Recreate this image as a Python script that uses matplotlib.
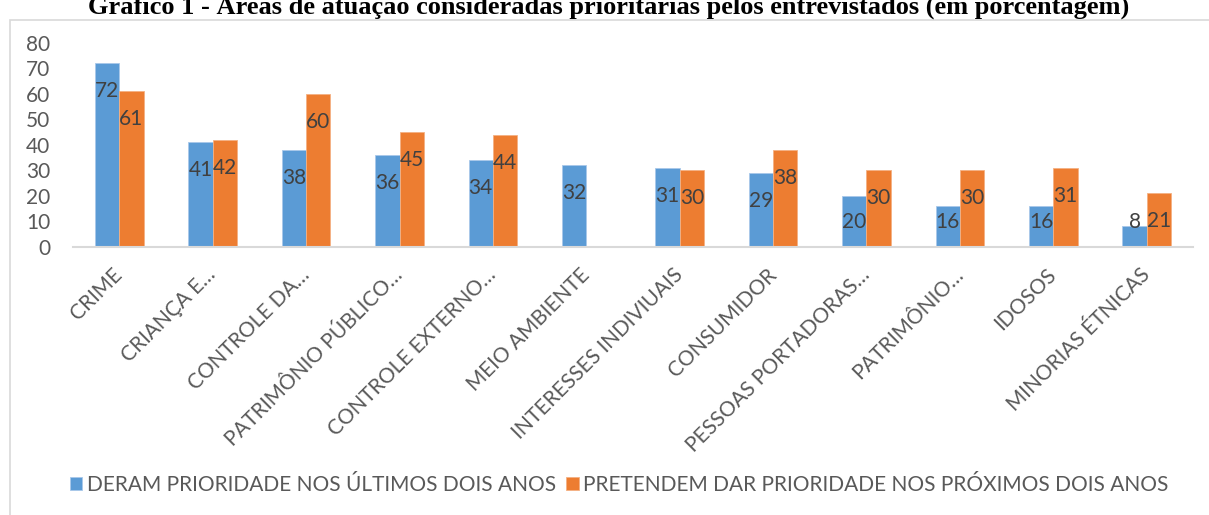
import numpy as np
import matplotlib.pyplot as plt
from matplotlib.patches import Rectangle

# ##### DATA ######
categories = ['CRIME', 'CRIANÇA E…', 'CONTROLE DA…', 'PATRIMÔNIO PÚBLICO…',
              'CONTROLE EXTERNO…', 'MEIO AMBIENTE', 'INTERESSES INDIVIUAIS',
              'CONSUMIDOR', 'PESSOAS PORTADORAS…', 'PATRIMÔNIO…', 'IDOSOS',
              'MINORIAS ÉTNICAS']
ultimos = [72, 41, 38, 36, 34, 32, 31, 29, 20, 16, 16, 8]
proximos = [61, 42, 60, 45, 44, np.nan, 30, 38, 30, 30, 31, 21]
series_names = ['DERAM PRIORIDADE NOS ÚLTIMOS DOIS ANOS',
                'PRETENDEM DAR PRIORIDADE NOS PRÓXIMOS DOIS ANOS']
yticks = [0, 10, 20, 30, 40, 50, 60, 70, 80]
title = 'Gráfico 1 - Áreas de atuação consideradas prioritárias pelos entrevistados (em porcentagem)'
#################

blue = '#5B9BD5'
orange = '#ED7D31'
txt_gray = '#595959'
lbl_gray = '#404040'
font = 'Lato'

W, H = 1209, 515
fig = plt.figure(figsize=(W/100, H/100), dpi=100)

# chart frame (cut off at right and bottom like the screenshot)
fig.patches.append(Rectangle((10/W, -0.1), 1.2, 1.1 - 20/H, transform=fig.transFigure,
                             fill=False, edgecolor='#d9d9d9', linewidth=1.2))

# title sits partly above the top edge, as in the source image
fig.text(609/W, 1 - 14/H, title, ha='center', va='baseline',
         fontfamily='Liberation Serif', fontweight='bold', fontsize=19)

ax = fig.add_axes([72.6/W, (H - 246.7)/H, 1120.8/W, (246.7 - 43)/H])
x = np.arange(len(categories))
bw = 0.26
b1 = ax.bar(x - bw/2, ultimos, bw, color=blue, edgecolor='#a9c8ea', linewidth=0.6,
            label=series_names[0])
b2 = ax.bar(x + bw/2, proximos, bw, color=orange, edgecolor='#f4b183', linewidth=0.6,
            label=series_names[1])

# data labels "inside end", never lower than a minimum height
for bars, vals in [(b1, ultimos), (b2, proximos)]:
    for rect, v in zip(bars, vals):
        if np.isnan(v):
            continue
        ax.text(rect.get_x() + rect.get_width()/2, max(v - 11, 9.6), f'{int(v)}',
                ha='center', va='center', fontsize=15, color=lbl_gray, fontfamily=font)

ax.set_xlim(-0.5, len(categories) - 0.5)
ax.set_ylim(0, 80)
ax.set_yticks(yticks)
ax.set_yticklabels([str(t) for t in yticks], fontsize=15, color=txt_gray, fontfamily=font)
ax.set_xticks(x)
ax.set_xticklabels(categories, rotation=45, ha='right', va='center', rotation_mode='anchor',
                   fontsize=15, color=txt_gray, fontfamily=font)
ax.tick_params(axis='y', length=0, pad=16)
ax.tick_params(axis='x', length=0, pad=18)
for s in ['top', 'right', 'left']:
    ax.spines[s].set_visible(False)
ax.spines['bottom'].set_color('#d9d9d9')
ax.spines['bottom'].set_linewidth(1.5)

fig.legend(handles=[b1, b2], loc='center', bbox_to_anchor=(619/W, 1 - 485/H), ncol=2,
           frameon=False, handlelength=0.6, handleheight=0.6, handletextpad=0.2,
           columnspacing=0.5, prop={'family': font, 'size': 15}, labelcolor=txt_gray)

plt.savefig('out.png', dpi=100)
plt.close()
